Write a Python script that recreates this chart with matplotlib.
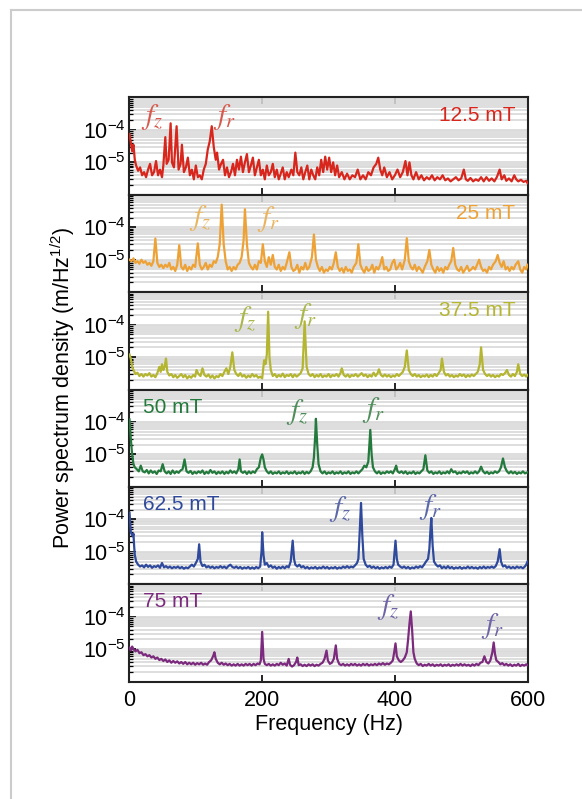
import numpy as np
import matplotlib
matplotlib.use("Agg")
import matplotlib.pyplot as plt
from matplotlib.ticker import LogLocator, NullFormatter, FixedLocator
from matplotlib.lines import Line2D

# ---------------- data (frequency in Hz, PSD in units of 1e-6 m/Hz^1/2) ----------------
psd_12p5 = [(0,75),(2,40),(4,22),(6,35),(8,12),(10,8),(13,5.5),(16,7),(19,4),(22,5),(25,3.5),(28,6),(31,9),(34,4),(37,5),
    (40,11),(43,4),(46,6),(49,3.5),(51,8),(54,60),(56,9),(59,12),(62,160),(64,10),(67,7),(71,130),(74,6),(77,9),(79,35),
    (82,5),(85,7),(88,14),(91,4),(94,6),(97,3),(100,8),(103,3.5),(106,4),(109,3),(112,6),(115,9),(118,25),(121,45),(124,130),
    (127,30),(130,12),(132,20),(135,6),(138,9),(141,12),(144,4),(147,7),(150,3.5),(153,5),(156,9),(159,4),(162,12),(165,6),
    (168,15),(171,5),(174,10),(177,18),(180,5),(183,8),(186,14),(189,4),(192,7),(195,12),(198,4),(201,6),(204,3),(207,8),
    (210,4),(213,5),(216,9),(219,3.5),(222,6),(225,3),(228,4.5),(231,7),(234,3),(237,5),(240,3.5),(244,6),(247,4),(250,20),
    (253,5),(256,4),(259,7),(262,3),(265,5),(268,8),(271,3),(274,6),(277,4),(280,3),(283,7),(286,4),(289,12),(292,5),(295,15),
    (298,6),(301,14),(304,5),(307,10),(310,4),(313,8),(316,3.5),(320,5),(324,3),(328,4.5),(332,3),(336,4),(340,3.5),(344,6),
    (348,3),(352,4),(356,3),(360,5),(364,4),(368,7),(372,9),(375,14),(378,6),(381,4),(384,7),(388,3.5),(392,5),(396,3),(400,4),
    (404,6),(408,3.5),(412,5),(416,11),(419,4),(422,10),(425,4),(428,3),(432,5),(436,3),(440,4),(444,2.8),(448,3.5),(452,3),
    (456,4),(460,2.8),(464,3.5),(468,3),(472,4),(476,2.8),(480,3.2),(484,2.6),(488,3),(492,3.5),(496,2.8),(500,3.2),(504,6),
    (507,3),(510,2.7),(514,3.3),(518,2.6),(522,3),(526,2.7),(530,3.5),(534,2.6),(538,3.5),(542,2.7),(546,3.2),(550,2.6),
    (554,3.6),(558,6),(561,3),(565,4),(568,2.7),(572,3.2),(576,2.6),(580,4),(583,3),(586,2.6),(590,2.9),(594,2.5),(598,2.7),(600,2.3)]

psd_25 = [(0,10),(3,9),(6,11),(9,8),(12,9),(15,7.5),(18,10),(21,8),(24,9),(27,7),(30,8),(33,6.5),(36,9),(39,45),(42,8),(45,6),
    (48,7),(51,5.5),(54,7),(57,6),(60,8),(63,5),(66,6),(69,4.5),(72,7),(75,28),(78,6),(81,5),(84,7),(87,4.5),(90,6),(93,5),
    (96,7),(99,6),(103,32),(106,7),(109,5),(112,6),(115,8),(118,5),(121,7),(124,6),(127,9),(130,8),(133,12),(136,30),(139,500),
    (142,30),(145,9),(148,5),(151,6),(154,4.5),(157,6),(160,5),(163,7),(166,8),(169,12),(172,40),(174,360),(177,30),(180,8),
    (183,6),(186,5),(189,7),(192,5),(195,9),(198,8),(201,30),(204,9),(207,6),(210,12),(213,7),(216,14),(219,6),(222,5),(225,7),
    (228,4.5),(231,6),(234,5),(237,8),(241,17),(244,6),(247,4.5),(250,5),(253,7),(256,4),(259,6),(262,5),(265,8),(268,5),(271,6),
    (275,12),(278,60),(281,10),(284,6),(287,4.5),(290,6),(293,4),(296,5),(299,4.5),(302,6),(305,5),(308,8),(311,17),(314,6),
    (317,4.5),(320,5.5),(323,4),(326,6),(329,4.5),(332,5),(335,4),(338,6),(342,8),(345,30),(348,7),(351,5),(354,4),(357,6),
    (360,4.5),(363,5),(366,7),(369,4),(372,6),(375,5),(378,7),(381,12),(384,5),(387,6),(390,4.5),(393,5),(396,8),(399,10),
    (402,5),(405,6),(408,8),(411,5),(415,10),(418,46),(421,9),(424,6),(427,5),(430,7),(433,4.5),(436,6),(439,5),(442,4),(445,6),
    (449,9),(452,20),(455,7),(458,5),(461,4),(464,6),(467,4.5),(470,5.5),(473,4),(476,6),(479,5),(482,7),(485,9),(488,23),
    (491,7),(494,5),(497,4.5),(500,6),(503,4),(506,5),(509,6.5),(512,4.5),(515,5),(518,6),(521,5),(524,7),(527,10),(530,6),
    (533,4.5),(536,5),(539,4),(542,6),(545,5),(548,7),(552,9),(555,14),(558,8),(561,6),(564,9),(567,5),(570,6),(573,4.5),
    (576,6),(579,5),(582,7),(586,9),(589,5),(592,4),(595,6),(598,5),(600,7)]

psd_37p5 = [(0,12),(2,9),(4,5),(6,4),(9,3),(12,3.3),(15,2.6),(18,3),(21,2.5),(24,3),(27,2.7),(30,3.2),(33,2.5),(36,2.8),(39,2.4),
    (42,3.2),(45,5),(47,3.5),(49,6),(51,4),(53,5),(55,9),(57,3.5),(60,2.7),(63,3),(66,2.4),(69,2.8),(72,2.3),(75,2.6),(78,3),
    (81,2.4),(84,2.8),(87,2.2),(90,2.6),(93,2.3),(96,2.8),(99,2.5),(101,4),(104,3),(107,2.6),(110,4.5),(113,2.8),(116,2.5),
    (119,2.9),(122,2.3),(125,2.7),(128,2.2),(131,2.6),(134,2.4),(137,3),(140,2.6),(143,3.5),(146,4.5),(149,3),(152,5),(155,14),
    (158,4),(161,3),(164,2.6),(167,3.2),(170,2.5),(173,2.8),(176,2.3),(179,2.7),(182,2.4),(185,3),(188,2.5),(191,2.8),(194,2.3),
    (197,2.5),(200,2.2),(203,8),(205,6),(207,12),(209,250),(211,10),(213,4),(216,2.6),(219,3),(222,2.4),(225,2.8),(228,2.5),
    (231,3.1),(234,2.4),(237,2.8),(240,2.6),(243,3),(246,2.4),(249,2.9),(252,2.5),(255,2.8),(258,3.2),(261,4.5),(264,126),
    (267,5),(270,3),(273,2.6),(276,3),(279,2.4),(282,2.8),(285,2.5),(288,3),(291,2.4),(294,2.7),(297,2.5),(300,3),(303,2.4),
    (306,2.8),(309,2.6),(312,3),(315,2.5),(318,3.2),(320,4.5),(323,2.8),(326,2.5),(329,2.9),(332,2.4),(335,2.8),(338,2.6),
    (341,3),(344,2.5),(347,2.8),(350,3.2),(353,2.6),(356,2.9),(359,2.4),(362,2.8),(365,2.5),(368,3.3),(371,2.6),(374,3.2),
    (376,4.2),(379,2.8),(382,2.5),(385,2.9),(388,2.5),(391,2.8),(394,2.4),(397,2.7),(400,2.5),(403,3),(406,2.6),(409,3),
    (412,3.5),(415,5),(418,16),(421,4),(424,3),(427,2.6),(430,3),(433,2.5),(436,2.8),(439,2.4),(442,2.7),(445,2.5),(448,2.9),
    (451,2.4),(454,2.8),(457,2.5),(460,3),(463,2.6),(466,3.2),(469,4),(471,9),(474,3.5),(477,2.7),(480,3),(483,2.5),(486,2.8),
    (489,2.4),(492,2.7),(495,2.5),(498,3),(501,2.6),(504,2.9),(507,2.4),(510,2.8),(513,2.5),(516,2.9),(519,2.6),(522,3),
    (525,3.5),(528,6),(530,20),(533,4),(536,3),(539,2.6),(542,2.9),(545,2.5),(548,2.8),(551,2.4),(554,2.7),(557,2.5),(560,3),
    (563,2.8),(566,3.2),(569,4),(572,2.8),(575,2.5),(578,3),(581,2.6),(584,3.5),(586,6),(589,3),(592,2.6),(595,2.9),(598,2.5),(600,2.8)]

psd_50 = [(0,120),(1,60),(2,30),(4,10),(6,5),(8,4),(11,3.5),(14,3),(17,4.5),(20,3),(23,2.8),(26,3.3),(29,2.6),(32,3.2),(35,2.7),
    (38,3),(41,2.5),(44,3.2),(47,3),(50,5),(53,3),(56,2.6),(59,3),(62,2.5),(65,3.2),(68,2.6),(71,3),(74,2.7),(77,3.2),(80,3.5),
    (83,7),(86,3),(89,2.7),(92,3.1),(95,2.5),(98,2.9),(101,2.6),(104,3),(107,2.7),(110,3.2),(113,2.5),(116,2.9),(119,2.6),
    (122,3.3),(125,2.7),(128,3),(131,2.5),(134,2.9),(137,2.6),(140,3),(143,2.5),(146,2.9),(149,2.6),(152,3.2),(155,2.7),(158,3),
    (161,2.6),(164,3.5),(166,7),(168,3),(171,2.7),(174,3),(177,2.5),(180,3),(183,2.6),(186,3),(189,2.7),(192,3.5),(195,4),
    (198,8),(200,10),(202,7),(204,4),(207,3),(210,2.6),(213,3),(216,2.5),(219,2.8),(222,2.6),(225,3),(228,2.5),(231,2.8),
    (234,2.6),(237,3),(240,2.5),(243,2.8),(246,2.6),(249,3),(252,2.5),(255,2.8),(258,2.6),(261,3),(264,2.5),(267,2.9),(270,2.6),
    (273,3),(276,4),(278,8),(280,40),(281,125),(283,20),(285,5),(288,3),(291,2.6),(294,3),(297,2.5),(300,2.8),(303,2.6),(306,3),
    (309,2.5),(312,2.8),(315,2.6),(318,3),(321,2.5),(324,2.8),(327,2.6),(330,3),(333,2.5),(336,2.8),(339,2.6),(342,3),(345,2.6),
    (348,3),(351,3.5),(354,4.5),(357,4),(360,6),(362,25),(363,57),(365,10),(367,4),(370,3),(373,2.6),(376,3),(379,2.5),(382,2.8),
    (385,2.6),(388,3),(391,2.7),(394,3),(397,2.6),(400,3.5),(402,4.5),(404,3),(407,2.7),(410,3),(413,2.6),(416,3),(419,2.5),
    (422,2.8),(425,2.6),(428,3),(431,2.5),(434,2.8),(437,2.6),(440,3),(443,3.5),(446,9.4),(449,3.2),(452,2.7),(455,3),(458,2.5),
    (461,2.8),(464,2.6),(467,3),(470,2.5),(473,2.8),(476,2.6),(479,3),(482,2.6),(485,3.5),(488,2.8),(491,3),(494,2.5),(497,2.8),
    (500,2.6),(503,3),(506,2.7),(509,3),(512,2.5),(515,2.8),(518,2.6),(521,3),(524,2.6),(527,3),(530,4.2),(533,3),(536,2.6),
    (539,2.9),(542,2.5),(545,2.8),(548,2.6),(551,3),(554,2.7),(557,3),(560,4),(563,7.5),(566,4),(569,3),(572,2.6),(575,3),
    (578,2.6),(581,2.9),(584,2.5),(587,2.8),(590,2.6),(593,3),(596,2.6),(600,2.8)]

psd_62p5 = [(0,160),(1,80),(2,40),(3,36),(5,30),(6,36),(7,15),(8,8),(10,5),(13,4),(16,3.5),(19,3.8),(22,3.3),(25,4),(28,3.4),
    (31,3.8),(34,3.2),(37,3.6),(40,3.4),(43,3.8),(46,3.2),(49,4.5),(52,3.3),(55,3.6),(58,3.2),(61,3.5),(64,3.1),(67,3.4),(70,3.2),
    (73,3.5),(76,3.1),(79,3.4),(82,3),(85,3.3),(88,3.1),(91,3.5),(94,4),(97,3.5),(100,4.5),(103,6),(105,17),(107,5),(110,3.6),
    (113,4),(116,3.3),(119,3.6),(122,3.2),(125,3.5),(128,3.1),(131,3.4),(134,3.2),(137,3.6),(140,3.2),(143,3.5),(146,3.1),
    (149,3.6),(152,4),(155,3.4),(158,3.2),(161,3.5),(164,3.1),(167,3.4),(170,3),(173,3.3),(176,3.1),(179,3.4),(182,3),(185,3.3),
    (188,3),(191,3.4),(194,3.1),(197,3.5),(199,10),(200,40),(202,8),(204,4),(207,4.5),(210,3.4),(213,3.8),(216,3.2),(219,3.5),
    (222,3),(225,3.4),(228,3.1),(231,3.5),(234,3.1),(237,3.6),(240,3.3),(243,5),(246,22),(248,6),(250,4),(253,3.5),(256,4),
    (259,3.3),(262,3.6),(265,3.1),(268,3.4),(271,3),(274,3.3),(277,3.1),(280,3.4),(283,3),(286,3.3),(289,3.1),(292,3.5),(295,3.1),
    (298,3.4),(301,3),(304,3.3),(307,3.1),(310,3.4),(313,3),(316,3.3),(319,3.1),(322,3.5),(325,3.2),(328,3.6),(331,3.2),(334,3.5),
    (337,3.3),(340,3.8),(343,4.5),(345,6),(347,40),(349,320),(351,30),(353,6),(356,4),(359,3.4),(362,3.7),(365,3.2),(368,3.5),
    (371,3.1),(374,3.4),(377,3),(380,3.3),(383,3.1),(386,3.4),(389,3.1),(392,3.5),(395,3.2),(398,4),(400,12),(401,22),(403,6),
    (405,4),(408,3.5),(411,3.2),(414,3.5),(417,3.1),(420,3.4),(423,3),(426,3.3),(429,3.1),(432,3.5),(435,3.2),(438,3.6),(441,3.3),
    (444,4),(447,5),(450,6),(452,12),(454,60),(455,110),(457,15),(459,5),(462,4),(465,3.5),(468,3.8),(471,3.1),(474,3.5),(477,3.1),
    (480,3.6),(483,3.1),(486,3.4),(489,3),(492,3.3),(495,3.1),(498,3.4),(501,3),(504,3.3),(507,3.1),(510,3.5),(513,3.1),(516,3.4),
    (519,3.1),(522,3.3),(525,3),(528,3.4),(531,3.1),(534,3.5),(537,3.1),(540,3.4),(543,3.2),(546,3.5),(549,3.2),(552,3.6),(555,5),
    (558,12),(560,5),(563,3.5),(566,3.8),(569,3.2),(572,3.5),(575,3.1),(578,3.4),(581,3.1),(584,3.5),(587,3.2),(590,3.4),(593,3.1),
    (596,3.5),(598,4),(600,5)]

psd_75 = [(0,11),(2,9),(4,12),(6,10),(9,8.5),(12,9.5),(15,7.5),(18,8),(21,6.5),(24,7),(27,6),(30,6.5),(33,5.5),(36,6),(39,5),
    (42,5.5),(45,4.6),(48,5),(51,4.3),(54,4.8),(57,4),(60,4.5),(63,3.8),(66,4.3),(69,3.8),(72,4.2),(75,3.6),(78,4),(81,3.5),(84,4),
    (87,3.4),(90,3.8),(93,3.4),(96,3.8),(99,3.3),(102,3.7),(105,3.4),(108,3.8),(111,3.3),(114,3.6),(117,3.3),(120,4),(123,4.5),
    (126,6),(128,8),(130,5),(133,3.8),(136,3.4),(139,3.8),(142,3.3),(145,3.6),(148,3.2),(151,3.5),(154,3.1),(157,3.4),(160,3.1),
    (163,3.5),(166,3.1),(169,3.4),(172,3.1),(175,3.5),(178,3.2),(181,3.5),(184,3.1),(187,3.5),(190,3.2),(193,3.6),(196,3.4),
    (198,4.5),(200,34),(202,5),(204,3.5),(207,3.2),(210,3.5),(213,3.1),(216,3.4),(219,3.1),(222,3.5),(225,3.2),(228,3.8),(231,3.3),
    (234,3.6),(237,3.1),(240,5),(242,3.3),(245,2.9),(248,3.2),(251,4),(253,5.5),(255,3.2),(258,3.4),(261,3),(264,3.3),(267,3),
    (270,3.4),(273,3.1),(276,3.4),(279,3),(282,3.3),(285,3.1),(288,3.5),(291,3.8),(294,5),(297,9),(299,4.5),(302,3.5),(305,3.8),
    (308,5),(311,13),(313,5),(316,3.5),(319,3.2),(322,3.5),(325,3.1),(328,3.4),(331,3.1),(334,3.5),(337,3.2),(340,3.5),(343,3.1),
    (346,3.4),(349,3.1),(352,3.5),(355,3.2),(358,3.5),(361,3.1),(364,3.4),(367,3.2),(370,3.5),(373,3.2),(376,3.6),(379,3.3),
    (382,3.7),(385,3.3),(388,3.6),(391,3.4),(394,3.8),(397,4.5),(399,8),(401,15),(403,6),(406,4.5),(409,4),(412,4.5),(415,5.5),
    (418,8),(420,20),(422,60),(424,145),(426,40),(428,8),(430,5),(433,3.6),(436,3.2),(439,3.5),(442,3),(445,3.3),(448,3.1),(451,3.5),
    (454,3.1),(457,3.4),(460,3),(463,3.3),(466,3.1),(469,3.4),(472,3),(475,3.3),(478,3.1),(481,3.4),(484,3),(487,3.3),(490,3.1),
    (493,3.4),(496,3.1),(499,3.5),(502,3.1),(505,3.4),(508,3.1),(511,3.3),(514,3),(517,3.4),(520,3.1),(523,3.5),(526,3.2),(529,3.8),
    (532,4),(535,6),(538,4),(541,3.6),(544,4.5),(547,8),(549,16),(551,7),(553,4.5),(556,4),(559,3.4),(562,3.7),(565,3.2),(568,3.5),
    (571,3.1),(574,3.4),(577,3),(580,3.3),(583,3.1),(586,3.5),(589,3),(592,3.3),(595,3.1),(598,3.4),(600,3.2)]

spectra = [psd_12p5, psd_25, psd_37p5, psd_50, psd_62p5, psd_75]
field_labels = ["12.5 mT", "25 mT", "37.5 mT", "50 mT", "62.5 mT", "75 mT"]
line_colors = ["#d8261d", "#eea236", "#b4b530", "#247a3c", "#2f4a9c", "#7c2a7d"]
f_colors = ["#d9584c", "#eab45e", "#a9b64a", "#4f8d5b", "#5a67a8", "#6f64a6"]
label_side = ["right", "right", "right", "left", "left", "left"]
# approximate positions of f_z / f_r annotations (Hz, PSD)
fz_pos = [(34, 2.5e-4), (106, 2.0e-4), (174, 1.5e-4), (253, 2.0e-4), (318, 2.1e-4), (390, 2.0e-4)]
fr_pos = [(143, 2.5e-4), (209, 1.8e-4), (265, 1.9e-4), (368, 2.3e-4), (454, 2.4e-4), (547, 5.0e-5)]
x_ticks = [0, 200, 400, 600]
y_ticks = [1e-5, 1e-4]

# ---------------- figure ----------------
plt.rcParams['font.family'] = ['Liberation Sans', 'DejaVu Sans']
plt.rcParams['mathtext.fontset'] = 'custom'
plt.rcParams['mathtext.rm'] = 'Liberation Sans'
plt.rcParams['mathtext.it'] = 'Liberation Sans:italic'

fig = plt.figure(figsize=(5.82, 7.99), dpi=100)
axes = fig.subplots(6, 1, sharex=True)
fig.subplots_adjust(left=0.2225, right=0.9064, top=0.878, bottom=0.147, hspace=0)

for i, ax in enumerate(axes):
    f = np.array([p[0] for p in spectra[i]], dtype=float)
    v = np.array([p[1] for p in spectra[i]], dtype=float) * 1e-6
    ax.set_yscale('log')
    ax.set_xlim(0, 600)
    ax.set_ylim(1e-6, 1e-3)
    ax.set_facecolor('white')
    ax.yaxis.set_major_locator(FixedLocator(y_ticks))
    ax.yaxis.set_minor_locator(LogLocator(base=10, subs=np.arange(2, 10), numticks=20))
    ax.yaxis.set_minor_formatter(NullFormatter())
    ax.grid(True, which='minor', axis='y', color='#dadada', lw=1.25)
    ax.grid(True, which='major', axis='y', color='#dadada', lw=1.25)
    ax.set_axisbelow(True)
    ax.plot(f, v, color=line_colors[i], lw=1.6, zorder=3)
    ax.set_xticks(x_ticks)
    ax.tick_params(axis='x', which='both', direction='in', top=True, bottom=True, length=5, width=1.2,
                   labelsize=15.5, pad=6)
    ax.tick_params(axis='y', which='major', direction='in', length=5, width=1.2, labelsize=15.5, pad=3)
    ax.tick_params(axis='y', which='minor', direction='in', length=3, width=0.9)
    for s in ax.spines.values():
        s.set_linewidth(1.5)
        s.set_color('#222222')
    if label_side[i] == 'right':
        ax.text(0.97, 0.81, field_labels[i], transform=ax.transAxes, ha='right', va='center',
                fontsize=15, color=line_colors[i])
    else:
        ax.text(0.035, 0.82, field_labels[i], transform=ax.transAxes, ha='left', va='center',
                fontsize=15, color=line_colors[i])
    ax.text(fz_pos[i][0], fz_pos[i][1], r'$f_z$', ha='center', va='center', fontsize=21,
            color=f_colors[i], math_fontfamily='stix', zorder=4)
    ax.text(fr_pos[i][0], fr_pos[i][1], r'$f_r$', ha='center', va='center', fontsize=21,
            color=f_colors[i], math_fontfamily='stix', zorder=4)
    if i < 5:
        ax.tick_params(axis='x', labelbottom=False)

axes[-1].set_xlabel('Frequency (Hz)', fontsize=15.5, labelpad=2)
fig.text(0.107, 0.515, r'Power spectrum density (m/Hz$^{1/2}$)', rotation=90, ha='center', va='center',
         fontsize=15.5)

# light page frame of the original figure
fig.add_artist(Line2D([11/582, 11/582], [0, 1 - 10/799], transform=fig.transFigure, color='#cccccc', lw=1.5))
fig.add_artist(Line2D([11/582, 1], [1 - 10/799, 1 - 10/799], transform=fig.transFigure, color='#cccccc', lw=1.5))

fig.savefig('out.png', dpi=100)
